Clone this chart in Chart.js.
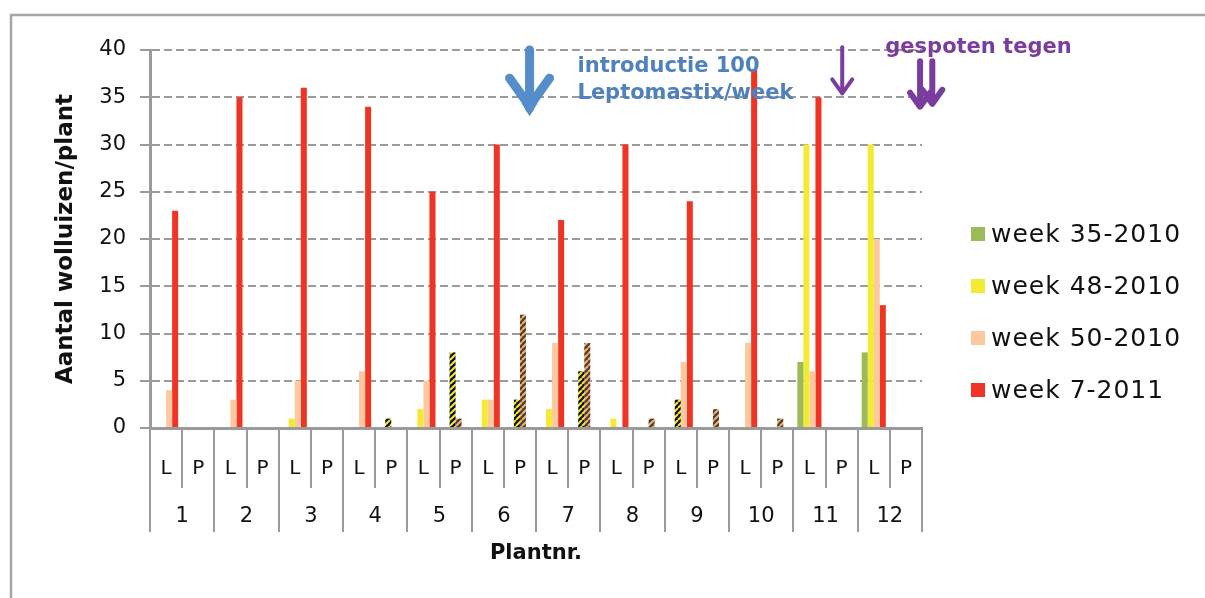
<!DOCTYPE html>
<html>
<head>
<meta charset="utf-8">
<script src="https://cdn.jsdelivr.net/npm/chart.js@4.4.1/dist/chart.umd.min.js"></script>
<style>
  html, body { margin: 0; padding: 0; background: #fff; overflow: hidden; }
  #wrap { width: 1205px; height: 598px; position: relative; }
</style>
</head>
<body>
<div id="wrap"><canvas id="chart" width="1205" height="598"></canvas></div>
<script>
// categories: L / P per plant
const plants = ['1', '2', '3', '4', '5', '6', '7', '8', '9', '10', '11', '12'];
const labels = plants.flatMap(() => ['L', 'P']);

const seriesNames = ['week 35-2010', 'week 48-2010', 'week 50-2010', 'week 7-2011'];

const week35 = [0, 0, 0, 0, 0, 0, 0, 0, 0, 0, 0, 0, 0, 0, 0, 0, 0, 0, 0, 0, 7, 0, 8, 0];
const week48 = [0, 0, 0, 0, 1, 0, 0, 1, 2, 8, 3, 3, 2, 6, 1, 0, 3, 0, 0, 0, 30, 0, 30, 0];
const week50 = [4, 0, 3, 0, 5, 0, 6, 0, 5, 1, 3, 12, 9, 9, 0, 1, 7, 2, 9, 1, 6, 0, 20, 0];
const week7 = [23, 0, 35, 0, 36, 0, 34, 0, 25, 0, 30, 0, 22, 0, 30, 0, 24, 0, 38, 0, 35, 0, 13, 0];

// which bars are drawn striped
const hatched48 = [7, 9, 11, 13, 16];
const hatched50 = [9, 11, 13, 15, 17, 19];

const yTicks = [0, 5, 10, 15, 20, 25, 30, 35, 40];

const colGreen = '#9bbb59';
const colYellow = '#f2ea33';
const colSalmon = '#fbc99d';
const colRed = '#ef3423';
const gridGray = '#9a9a9a';
const font = 'DejaVu Sans';

function makeStripes(bg, fg) {
    const c = document.createElement('canvas');
    c.width = 6;
    c.height = 6;
    const g = c.getContext('2d');
    g.fillStyle = bg;
    g.fillRect(0, 0, 6, 6);
    g.strokeStyle = fg;
    g.lineWidth = 2;
    g.beginPath();
    for (let k = -6; k <= 12; k += 6) {
        g.moveTo(k, 6);
        g.lineTo(k + 6, 0);
    }
    g.stroke();
    return g.createPattern(c, 'repeat');
}

const stripeYellow = makeStripes('#111', colYellow);
const stripeSalmon = makeStripes('#5a3b22', '#e8b584');

const bg48 = labels.map((l, i) => hatched48.includes(i) ? stripeYellow : colYellow);
const bg50 = labels.map((l, i) => hatched50.includes(i) ? stripeSalmon : colSalmon);

const decorPlugin = {
    id: 'decor',
    beforeDraw(chart) {
        const ctx = chart.ctx;
        ctx.save();
        ctx.fillStyle = '#fff';
        ctx.fillRect(0, 0, chart.width, chart.height);
        ctx.strokeStyle = '#a6a6a6';
        ctx.lineWidth = 2.5;
        ctx.beginPath();
        ctx.moveTo(11, chart.height);
        ctx.lineTo(11, 15);
        ctx.lineTo(chart.width + 5, 15);
        ctx.stroke();
        ctx.restore();
    },
    afterDraw(chart) {
        const ctx = chart.ctx;
        const xs = chart.scales.x;
        const ys = chart.scales.y;
        const area = chart.chartArea;
        ctx.save();

        // category separators below the axis
        ctx.strokeStyle = gridGray;
        ctx.lineWidth = 2;
        for (let j = 0; j <= labels.length; j++) {
            const x = Math.round(xs.getPixelForValue(j - 0.5));
            ctx.beginPath();
            ctx.moveTo(x, area.bottom);
            ctx.lineTo(x, area.bottom + (j % 2 === 0 ? 104 : 60));
            ctx.stroke();
        }

        // plant numbers
        ctx.fillStyle = '#111';
        ctx.font = '21px "' + font + '"';
        ctx.textAlign = 'center';
        ctx.textBaseline = 'middle';
        plants.forEach((p, k) => {
            ctx.fillText(p, xs.getPixelForValue(k * 2 + 0.5), area.bottom + 89);
        });

        // legend
        ctx.font = '25px "' + font + '"';
        ctx.letterSpacing = '1px';
        ctx.textAlign = 'left';
        chart.data.datasets.forEach((ds, i) => {
            const cy = area.top + 184 + i * 52;
            ctx.fillStyle = ds.legendColor;
            ctx.fillRect(area.right + 49, cy - 7, 14, 14);
            ctx.fillStyle = '#111';
            ctx.fillText(ds.label, area.right + 69, cy + 1);
        });
        ctx.letterSpacing = '0px';

        // blue arrow + text
        const blue = '#548dca';
        const bx = xs.getPixelForValue(11.3);
        const bTop = ys.getPixelForValue(40);
        const bTip = ys.getPixelForValue(33);
        ctx.strokeStyle = blue;
        ctx.fillStyle = blue;
        ctx.lineCap = 'round';
        ctx.lineJoin = 'round';
        ctx.lineWidth = 9;
        ctx.beginPath();
        ctx.moveTo(bx, bTop);
        ctx.lineTo(bx, bTip - 8);
        ctx.stroke();
        ctx.beginPath();
        ctx.moveTo(bx - 20, bTip - 38);
        ctx.lineTo(bx, bTip - 10);
        ctx.lineTo(bx + 20, bTip - 38);
        ctx.stroke();
        ctx.beginPath();
        ctx.moveTo(bx - 8, bTip - 13);
        ctx.lineTo(bx, bTip);
        ctx.lineTo(bx + 8, bTip - 13);
        ctx.fill();

        ctx.font = 'bold 21px "' + font + '"';
        ctx.fillStyle = '#4f81bd';
        ctx.textAlign = 'left';
        const tx = xs.getPixelForValue(12.79);
        ctx.fillText('introductie 100', tx, ys.getPixelForValue(38.2));
        ctx.fillText('Leptomastix/week', tx, ys.getPixelForValue(35.4));

        // purple arrows + text
        const purple = '#7a3d9e';
        ctx.strokeStyle = purple;
        ctx.fillStyle = purple;
        const drawArrow = (x, v1, v2, w, head) => {
            const y1 = ys.getPixelForValue(v1);
            const y2 = ys.getPixelForValue(v2);
            ctx.lineWidth = w;
            ctx.beginPath();
            ctx.moveTo(x, y1);
            ctx.lineTo(x, y2 - 2);
            ctx.stroke();
            ctx.beginPath();
            ctx.moveTo(x - head, y2 - head * 1.5);
            ctx.lineTo(x, y2 - 1);
            ctx.lineTo(x + head, y2 - head * 1.5);
            ctx.stroke();
        };
        drawArrow(xs.getPixelForValue(21.02), 40.3, 35.3, 4, 10);
        drawArrow(xs.getPixelForValue(23.44), 38.8, 33.9, 6, 10);
        drawArrow(xs.getPixelForValue(23.82), 38.8, 34.2, 6, 10);

        ctx.font = 'bold 21px "' + font + '"';
        ctx.fillText('gespoten tegen', xs.getPixelForValue(22.36), ys.getPixelForValue(40.3));

        ctx.restore();
    }
};

new Chart(document.getElementById('chart'), {
    type: 'bar',
    data: {
        labels: labels,
        datasets: [
            { label: seriesNames[0], data: week35, backgroundColor: colGreen, legendColor: colGreen },
            { label: seriesNames[1], data: week48, backgroundColor: bg48, legendColor: colYellow },
            { label: seriesNames[2], data: week50, backgroundColor: bg50, legendColor: colSalmon },
            { label: seriesNames[3], data: week7, backgroundColor: colRed, legendColor: colRed }
        ]
    },
    options: {
        responsive: false,
        animation: false,
        layout: { padding: { left: 0, right: 283, top: 50, bottom: 0 } },
        datasets: {
            bar: { categoryPercentage: 0.75, barPercentage: 1.0 }
        },
        plugins: {
            legend: { display: false },
            tooltip: { enabled: false }
        },
        scales: {
            x: {
                grid: { display: false },
                border: { display: true, color: gridGray, width: 3 },
                ticks: {
                    autoSkip: false,
                    maxRotation: 0,
                    padding: 21,
                    color: '#111',
                    font: { family: font, size: 20 }
                },
                title: {
                    display: true,
                    text: 'Plantnr.',
                    color: '#111',
                    font: { family: font, size: 21, weight: 'bold' },
                    padding: { top: 0, bottom: 32 }
                },
                afterFit(scale) { scale.height = 170; }
            },
            y: {
                min: 0,
                max: 40,
                afterBuildTicks(scale) { scale.ticks = yTicks.map(v => ({ value: v })); },
                grid: {
                    color: gridGray,
                    lineWidth: 2,
                    tickLength: 10,
                    tickColor: gridGray,
                    tickWidth: 2
                },
                border: { display: true, color: gridGray, width: 3, dash: [8, 4] },
                ticks: {
                    padding: 14,
                    color: '#111',
                    font: { family: font, size: 21 }
                },
                title: {
                    display: true,
                    text: 'Aantal wolluizen/plant',
                    color: '#111',
                    font: { family: font, size: 23, weight: 'bold' },
                    padding: { top: 52, bottom: 0 }
                },
                afterFit(scale) { scale.width = 150; }
            }
        }
    },
    plugins: [decorPlugin]
});
</script>
</body>
</html>
